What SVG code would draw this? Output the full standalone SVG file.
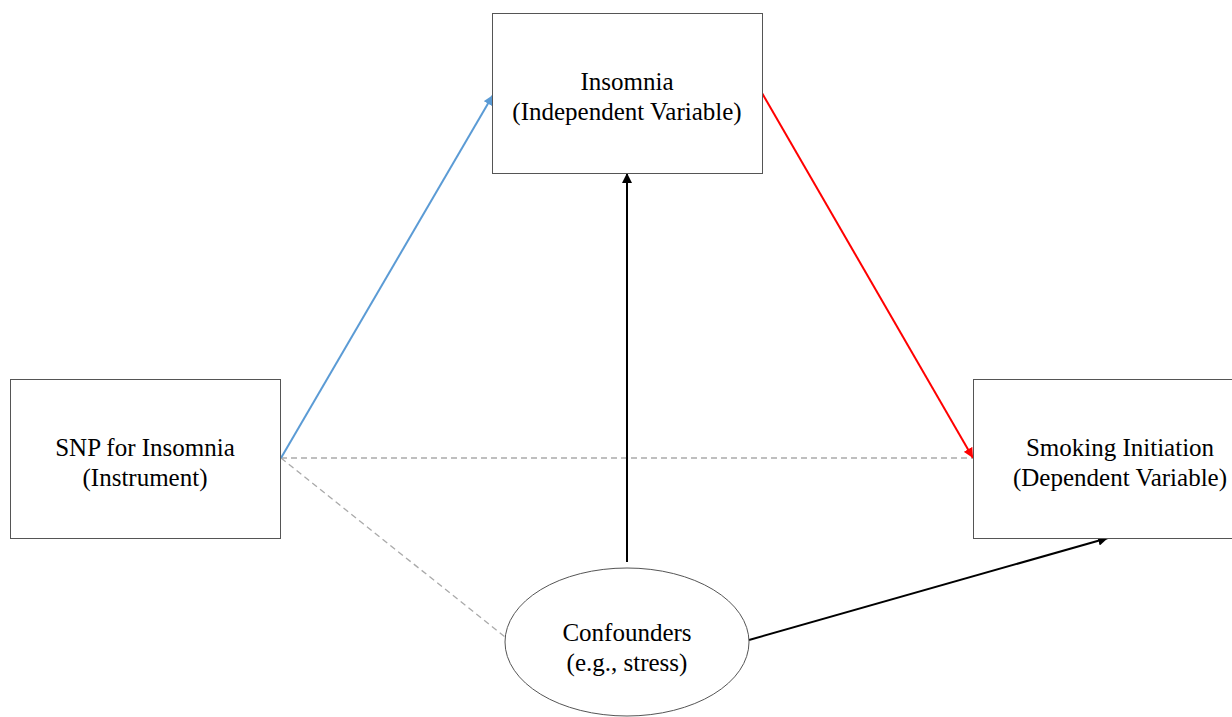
<svg xmlns="http://www.w3.org/2000/svg" width="1232" height="717" viewBox="0 0 1232 717">
<style>
.box{fill:#fff;stroke:#555;stroke-width:1}
.t{font-family:"Liberation Serif","Times New Roman",serif;font-size:25px;fill:#000;text-anchor:middle}
.dash{stroke:#aaa;stroke-width:1.3;stroke-dasharray:6,4;fill:none}
</style>
<defs>
<marker id="ab" viewBox="0 0 10 10" refX="10" refY="5" markerWidth="10" markerHeight="10" markerUnits="userSpaceOnUse" orient="auto"><path d="M0,0L10,5L0,10z" fill="#5b9bd5"/></marker>
<marker id="ar" viewBox="0 0 10 10" refX="10" refY="5" markerWidth="10" markerHeight="10" markerUnits="userSpaceOnUse" orient="auto"><path d="M0,0L10,5L0,10z" fill="#ff0000"/></marker>
<marker id="ak" viewBox="0 0 10 10" refX="10" refY="5" markerWidth="10" markerHeight="10" markerUnits="userSpaceOnUse" orient="auto"><path d="M0,0L10,5L0,10z" fill="#000"/></marker>
</defs>
<rect width="1232" height="717" fill="#fff"/>
<g id="connectors">
<line class="dash" x1="281" y1="458" x2="973" y2="458"/>
<line class="dash" x1="281" y1="458" x2="505" y2="637"/>
<line x1="281" y1="458" x2="493" y2="95" stroke="#5b9bd5" stroke-width="2" marker-end="url(#ab)"/>
<line x1="762" y1="93" x2="973" y2="458" stroke="#ff0000" stroke-width="2" marker-end="url(#ar)"/>
<line x1="627" y1="562" x2="627" y2="173" stroke="#000" stroke-width="2" marker-end="url(#ak)"/>
<line x1="749" y1="640" x2="1108" y2="538" stroke="#000" stroke-width="2" marker-end="url(#ak)"/>
</g>
<g id="insomnia">
<rect class="box" x="492.5" y="13.5" width="270" height="160"/>
<text class="t" x="627" y="90">Insomnia</text>
<text class="t" x="627" y="120">(Independent Variable)</text>
</g>
<g id="snp">
<rect class="box" x="10.5" y="379.5" width="270" height="159"/>
<text class="t" x="145" y="456">SNP for Insomnia</text>
<text class="t" x="145" y="486">(Instrument)</text>
</g>
<g id="smoking">
<rect class="box" x="973.5" y="379.5" width="272" height="159"/>
<text class="t" x="1120" y="456">Smoking Initiation</text>
<text class="t" x="1120" y="486">(Dependent Variable)</text>
</g>
<g id="confounders">
<ellipse class="box" cx="627" cy="642" rx="122" ry="74"/>
<text class="t" x="627" y="641">Confounders</text>
<text class="t" x="627" y="671">(e.g., stress)</text>
</g>
</svg>
